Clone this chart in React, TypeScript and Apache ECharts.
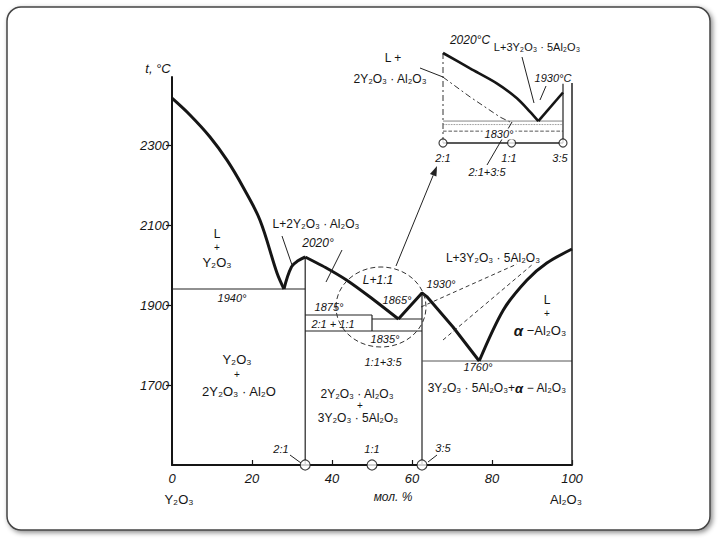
import React, { useEffect, useRef } from "react";
import * as echarts from "echarts";

// ---------- data (mol.% Al2O3, temperature °C) ----------
const xTickValues = [0, 20, 40, 60, 80, 100];
const yTickValues = [1700, 1900, 2100, 2300];

const liquidusY2O3 = [[0, 2417], [4.5, 2375], [9.5, 2320], [13.75, 2262], [17.75, 2195], [22, 2112], [26.25, 1980], [28, 1940]];
const riseTo2020 = [[28, 1940], [29.9, 1996], [31.6, 2011], [33.3, 2020]];
const fallFrom2020 = [[33.3, 2020], [38.7, 1992], [43.7, 1962], [49.5, 1920], [56.6, 1865]];
const dome35 = [[56.6, 1865], [62.5, 1930], [63.7, 1921], [70.25, 1845], [76.8, 1760]];
const liquidusAl2O3 = [[76.8, 1760], [82.8, 1887], [88.7, 1962], [93.7, 2005], [100, 2040]];

const eutectic1940 = [[0, 1940], [33.3, 1940]];
const compound21 = [[33.3, 2020], [33.3, 1500]];
const line1875 = [[33.3, 1875], [50, 1875]];
const compound11 = [[50, 1875], [50, 1835]];
const line1865 = [[50, 1865], [62.5, 1865]];
const line1835 = [[33.3, 1835], [62.5, 1835]];
const compound35 = [[62.5, 1930], [62.5, 1500]];
const eutectic1760 = [[62.5, 1760], [100, 1760]];
const rightBorder = [[100, 1500], [100, 2455]];
const compoundMarks = [[33.3, 1500], [50, 1500], [62.5, 1500]];

// inset (enlarged 2:1 ... 3:5 region)
const insetLiquidus = [[33.33, 2020], [39.9, 1985], [46.4, 1951], [51.3, 1917], [54.5, 1886], [56.5, 1865]];
const insetRise = [[56.5, 1865], [62.5, 1930]];
const insetMetastable = [[33.33, 1965], [39.9, 1920], [47.2, 1874], [49.6, 1863]];
const insetLeft = [[33.33, 2020], [33.33, 1815]];
const insetRight = [[62.5, 1950], [62.5, 1815]];
const insetBase = [[33.33, 1815], [62.5, 1815]];
const inset1865 = [[33.33, 1865], [62.5, 1865]];
const inset1857 = [[33.33, 1857], [62.5, 1857]];
const inset1842 = [[33.33, 1842], [62.5, 1842]];
const insetMarks = [[33.33, 1815], [50, 1815], [62.5, 1815]];

const INK = "#151515";
const FONT = "'Liberation Sans', 'DejaVu Sans', sans-serif";

function boldLine(data: number[][], smooth: number | boolean, axis = 0, width = 3) {
  return {
    type: "line", data, smooth, symbol: "none", clip: false, z: 6,
    xAxisIndex: axis, yAxisIndex: axis,
    lineStyle: { color: INK, width },
  };
}
function thinLine(data: number[][], type: any = "solid", axis = 0, width = 1.2, color = "#222") {
  return {
    type: "line", data, symbol: "none", clip: false, z: 4,
    xAxisIndex: axis, yAxisIndex: axis,
    lineStyle: { color, width, type },
  };
}
function marks(data: number[][], axis: number, size: number) {
  return {
    type: "scatter", data, symbol: "circle", symbolSize: size, clip: false, z: 10,
    xAxisIndex: axis, yAxisIndex: axis,
    itemStyle: { color: "#fff", borderColor: INK, borderWidth: 1.2 },
  };
}

function txt(text: string, x: number, y: number, size = 12, italic = false, extra: any = {}) {
  return {
    type: "text", x, y, z: 20,
    style: {
      text, align: "center", verticalAlign: "middle",
      fontSize: size, fontStyle: italic ? "italic" : "normal",
      fontFamily: FONT, fill: INK, ...extra,
    },
  };
}
function seg(x1: number, y1: number, x2: number, y2: number, dash = false, w = 1) {
  return {
    type: "line", z: 15,
    shape: { x1, y1, x2, y2 },
    style: { stroke: "#222", lineWidth: w, lineDash: dash ? [4, 3] : null },
  };
}

export default function App() {
  const ref = useRef<HTMLDivElement>(null);
  useEffect(() => {
    const chart = echarts.init(ref.current!, null, { renderer: "svg" });

    // arrow from circled region to inset
    const ax1 = 396, ay1 = 266, ax2 = 437, ay2 = 166;
    const L = Math.hypot(ax2 - ax1, ay2 - ay1);
    const dx = (ax2 - ax1) / L, dy = (ay2 - ay1) / L;
    const bx = ax2 - dx * 10, by = ay2 - dy * 10;
    const px = -dy, py = dx;

    const graphic: any[] = [
      {
        type: "rect", z: -10,
        shape: { x: 7, y: 7, width: 703, height: 523, r: 14 },
        style: { fill: "#fff", stroke: "#444", lineWidth: 1.5, shadowBlur: 5, shadowOffsetX: 2, shadowOffsetY: 2, shadowColor: "rgba(0,0,0,0.45)" },
      },
      // axis name
      txt("t, °C", 158, 68, 13, true),
      // main field labels
      txt("L", 217, 234, 12), txt("+", 217, 247, 10), txt("Y₂O₃", 217, 262, 13),
      txt("L+2Y₂O₃ · Al₂O₃", 316, 224, 12),
      txt("2020°", 318, 243, 12, true),
      txt("1940°", 232, 298, 11, true),
      txt("L+1:1", 378, 280, 12, true),
      txt("1875°", 329, 307, 11, true),
      txt("1865°", 397, 300, 11, true),
      txt("2:1 + 1:1", 333, 324, 11, true),
      txt("1835°", 385, 339, 11, true),
      txt("1:1+3:5", 383, 362, 11, true),
      txt("1930°", 441, 284, 11, true),
      txt("L+3Y₂O₃ · 5Al₂O₃", 493, 258, 12),
      txt("L", 547, 300, 12), txt("+", 547, 313, 10),
      { type: "text", x: 540, y: 330, z: 20, style: { text: "{a|α} −Al₂O₃", align: "center", verticalAlign: "middle", fontSize: 13, fontFamily: FONT, fill: INK, rich: { a: { fontWeight: "bold", fontStyle: "italic", fontSize: 15, fill: INK } } } },
      txt("1760°", 478, 367, 11, true),
      { type: "text", x: 497, y: 388, z: 20, style: { text: "3Y₂O₃ · 5Al₂O₃+{a|α} − Al₂O₃", align: "center", verticalAlign: "middle", fontSize: 12, fontFamily: FONT, fill: INK, rich: { a: { fontWeight: "bold", fontStyle: "italic", fontSize: 13, fill: INK } } } },
      txt("Y₂O₃", 237, 359, 13), txt("+", 237, 374, 10), txt("2Y₂O₃ · Al₂O", 239, 391, 13),
      txt("2Y₂O₃ · Al₂O₃", 357, 394, 12), txt("+", 360, 405, 10), txt("3Y₂O₃ · 5Al₂O₃", 358, 418, 12),
      txt("2:1", 281, 449, 11, true), txt("1:1", 372, 449, 11, true), txt("3:5", 443, 448, 11, true),
      txt("Y₂O₃", 179, 499, 13), txt("мол. %", 393, 497, 12, true), txt("Al₂O₃", 566, 499, 13),
      // leaders
      seg(282, 236, 292, 265),
      seg(342, 250, 326, 282),
      seg(290, 455, 301, 463),
      seg(437, 455, 428, 462),
      seg(421, 307, 517, 264, true, 0.9),
      seg(443, 340, 533, 264, true, 0.9),
      // circle around the 1:1 region
      { type: "ellipse", z: 15, shape: { cx: 381, cy: 307, rx: 45, ry: 40 }, style: { fill: "none", stroke: "#333", lineWidth: 1, lineDash: [5, 3] } },
      // arrow
      seg(ax1, ay1, bx, by, false, 1),
      { type: "polygon", z: 15, shape: { points: [[ax2, ay2], [bx + px * 3.5, by + py * 3.5], [bx - px * 3.5, by - py * 3.5]] }, style: { fill: "#222" } },
      // inset labels
      txt("2020°C", 470, 40, 12, true),
      txt("L +", 393, 58, 12), txt("2Y₂O₃ · Al₂O₃", 390, 79, 12),
      txt("L+3Y₂O₃ · 5Al₂O₃", 537, 47, 11),
      txt("1930°C", 553, 78, 11, true),
      txt("1830°", 499, 134, 11, true, { backgroundColor: "#fff", padding: [0, 2] }),
      txt("2:1", 443, 158, 11, true), txt("1:1", 509, 158, 11, true), txt("3:5", 560, 158, 11, true),
      txt("2:1+3:5", 487, 172, 11, true),
      seg(420, 68, 443, 77),
      seg(522, 57, 534, 103),
      seg(487, 165, 512, 122),
      seg(546, 86, 540, 100),
    ];

    const option: any = {
      animation: false,
      backgroundColor: "transparent",
      grid: [
        { left: 172, top: 77, width: 400, height: 388 },
        { left: 443, top: 53, width: 120, height: 90 },
      ],
      xAxis: [
        {
          type: "value", gridIndex: 0, min: 0, max: 100, interval: 20,
          axisLine: { lineStyle: { color: INK, width: 2 } },
          axisTick: { inside: true, length: 5, lineStyle: { color: INK, width: 1.2 }, customValues: xTickValues },
          axisLabel: { customValues: xTickValues, color: INK, fontSize: 13, fontStyle: "italic", fontFamily: FONT, margin: 7, formatter: (v: number) => String(v) },
          splitLine: { show: false },
        },
        { type: "value", gridIndex: 1, min: 33.33, max: 62.5, show: false },
      ],
      yAxis: [
        {
          type: "value", gridIndex: 0, min: 1500, max: 2470,
          axisLine: { show: true, lineStyle: { color: INK, width: 2 } },
          axisTick: { show: true, length: 6, lineStyle: { color: INK, width: 1.2 }, customValues: yTickValues },
          axisLabel: { customValues: yTickValues, color: INK, fontSize: 13, fontStyle: "italic", fontFamily: FONT, margin: 3, formatter: (v: number) => String(v) },
          splitLine: { show: false },
        },
        { type: "value", gridIndex: 1, min: 1815, max: 2020, show: false },
      ],
      graphic,
      series: [
        boldLine(liquidusY2O3, 0.35),
        boldLine(riseTo2020, 0.4),
        boldLine(fallFrom2020, 0.2),
        boldLine(dome35, false),
        boldLine(liquidusAl2O3, 0.3),
        thinLine(eutectic1940),
        thinLine(compound21),
        thinLine(line1875),
        thinLine(compound11),
        thinLine(line1865),
        thinLine(line1835),
        thinLine(compound35),
        thinLine(eutectic1760, "solid", 0, 1, "#555"),
        thinLine(rightBorder, "solid", 0, 1.5),
        marks(compoundMarks, 0, 10),
        // inset
        boldLine(insetLiquidus, 0.3, 1, 2.6),
        boldLine(insetRise, false, 1, 2.6),
        thinLine(insetMetastable, [6, 3, 2, 3], 1, 1, "#333"),
        thinLine(insetLeft, [6, 3, 2, 3], 1, 1, "#333"),
        thinLine(insetRight, "solid", 1, 1.2),
        thinLine(insetBase, "solid", 1, 1.3),
        thinLine(inset1865, "solid", 1, 0.8, "#666"),
        thinLine(inset1857, "dotted", 1, 0.8, "#666"),
        thinLine(inset1842, "dashed", 1, 0.9, "#444"),
        marks(insetMarks, 1, 8),
      ],
    };
    chart.setOption(option);
    return () => chart.dispose();
  }, []);
  return (
    <div
      ref={ref}
      style={{ position: "absolute", left: 0, top: 0, width: 720, height: 540, background: "#fff" }}
    />
  );
}
